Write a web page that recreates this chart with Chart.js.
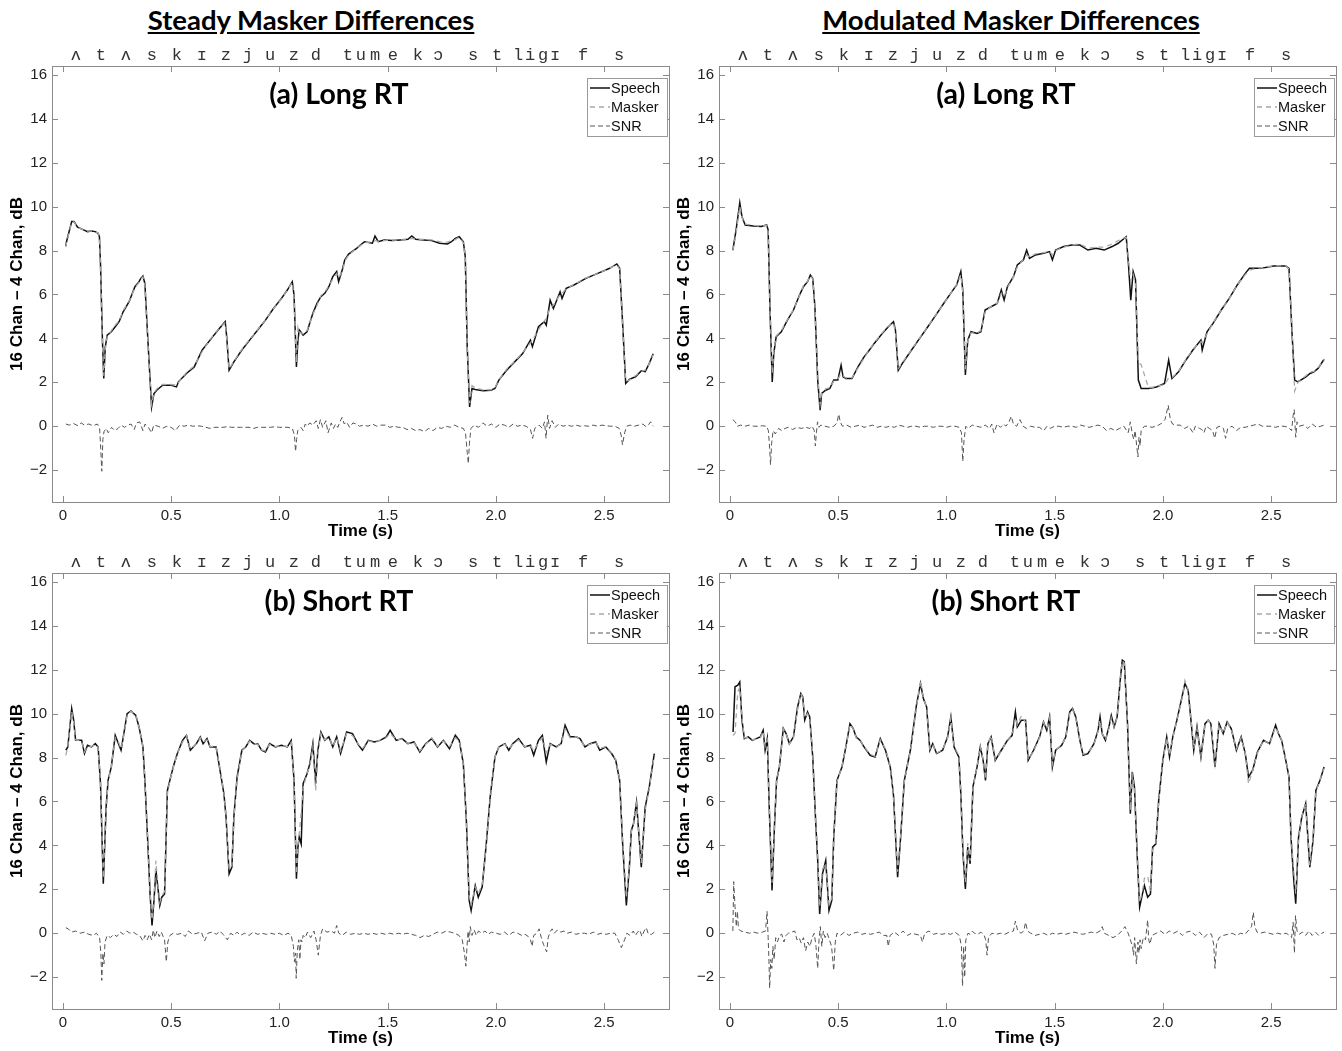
<!DOCTYPE html>
<html>
<head>
<meta charset="utf-8">
<script src="https://cdn.jsdelivr.net/npm/chart.js@4.4.1/dist/chart.umd.min.js"></script>
<style>
  body { margin: 0; background: #fff; width: 1342px; height: 1051px; position: relative; overflow: hidden; }
  .head { position: absolute; top: 3px; font: bold 27.5px Lato, sans-serif; text-decoration: underline; color: #000; transform: translateX(-50%); white-space: nowrap; }
  .box { position: absolute; }
</style>
</head>
<body>
<div class="head" style="left:311px">Steady Masker Differences</div>
<div class="head" style="left:1011px">Modulated Masker Differences</div>
<div class="box" style="left:0;top:40px;width:680px;height:500px"><canvas id="steadyLong"></canvas></div>
<div class="box" style="left:667px;top:40px;width:675px;height:500px"><canvas id="modLong"></canvas></div>
<div class="box" style="left:0;top:547px;width:680px;height:500px"><canvas id="steadyShort"></canvas></div>
<div class="box" style="left:667px;top:547px;width:675px;height:500px"><canvas id="modShort"></canvas></div>
<script>
// phoneme labels along the top of each panel (time in s)
var phonemes = ['ʌ','t','ʌ','s','k','ɪ','z','j','u','z','d','t','u','m','e','k','ɔ','s','t','l','i','g','ɪ','f','s'];
var phonemeTimes = [0.06,0.176,0.291,0.411,0.527,0.642,0.753,0.855,0.957,1.067,1.169,1.317,1.377,1.442,1.525,1.64,1.733,1.895,2.006,2.103,2.158,2.218,2.274,2.403,2.569];

var timeTicks = [0, 0.5, 1.0, 1.5, 2.0, 2.5];
var dbTicks = [-2, 0, 2, 4, 6, 8, 10, 12, 14, 16];

// (a) Long RT, steady masker : [time, dB]
var steadyLongSpeech = [[0.014,8.21],[0.017,8.4],[0.041,9.32],[0.052,9.32],[0.068,9.06],[0.096,8.94],[0.114,8.86],[0.132,8.89],[0.15,8.86],[0.163,8.78],
[0.169,8.63],[0.174,7.4],[0.183,3.92],[0.189,2.17],[0.196,3.6],[0.205,4.15],[0.224,4.3],[0.242,4.53],[0.26,4.76],[0.278,5.2],
[0.306,5.67],[0.333,6.35],[0.352,6.58],[0.36,6.73],[0.37,6.84],[0.379,6.5],[0.392,4.07],[0.41,0.88],[0.421,1.49],[0.434,1.64],
[0.461,1.87],[0.498,1.87],[0.525,1.79],[0.534,2.02],[0.571,2.4],[0.607,2.7],[0.644,3.47],[0.68,3.92],[0.717,4.38],[0.75,4.76],
[0.757,4.07],[0.768,2.55],[0.79,2.93],[0.827,3.47],[0.863,3.92],[0.9,4.38],[0.936,4.83],[0.973,5.36],[1.01,5.82],[1.037,6.2],
[1.06,6.58],[1.068,5.97],[1.079,2.7],[1.086,3.92],[1.092,4.38],[1.11,4.15],[1.128,4.3],[1.155,5.14],[1.174,5.59],[1.192,5.9],
[1.21,6.05],[1.229,6.35],[1.247,6.81],[1.265,7.04],[1.274,6.58],[1.293,7.19],[1.302,7.57],[1.32,7.84],[1.357,8.1],[1.393,8.4],
[1.43,8.33],[1.442,8.66],[1.457,8.4],[1.484,8.48],[1.521,8.45],[1.558,8.48],[1.594,8.51],[1.612,8.66],[1.63,8.51],[1.667,8.48],
[1.704,8.45],[1.74,8.33],[1.777,8.3],[1.795,8.4],[1.813,8.55],[1.831,8.63],[1.85,8.4],[1.859,7.72],[1.868,3.62],[1.879,0.88],
[1.89,1.72],[1.905,1.67],[1.941,1.61],[1.978,1.64],[1.996,1.72],[2.014,2.1],[2.05,2.55],[2.087,2.93],[2.124,3.31],[2.16,3.92],
[2.169,3.62],[2.197,4.53],[2.224,4.76],[2.233,4.6],[2.251,5.74],[2.266,5.36],[2.297,6.12],[2.306,5.82],[2.325,6.28],[2.361,6.43],
[2.416,6.73],[2.471,6.96],[2.526,7.19],[2.559,7.39],[2.572,7.19],[2.585,4.83],[2.6,1.95],[2.617,2.13],[2.645,2.25],[2.672,2.52],
[2.69,2.48],[2.709,2.86],[2.727,3.3]];
var steadyLongMasker = [[0.014,8.15],[0.017,8.35],[0.041,9.3],[0.052,9.3],[0.068,9.05],[0.096,8.95],[0.114,8.88],[0.132,8.88],[0.15,8.85],[0.163,8.8],
[0.169,8.6],[0.174,7.3],[0.183,3.8],[0.189,2.3],[0.196,3.5],[0.205,4.1],[0.224,4.35],[0.242,4.6],[0.26,4.8],[0.278,5.25],
[0.306,5.7],[0.333,6.3],[0.352,6.55],[0.36,6.7],[0.37,6.8],[0.379,6.45],[0.392,4.0],[0.41,1.0],[0.421,1.5],[0.434,1.7],
[0.461,1.9],[0.498,1.9],[0.525,1.88],[0.534,1.98],[0.571,2.45],[0.607,2.75],[0.644,3.4],[0.68,3.95],[0.717,4.4],[0.75,4.72],
[0.757,4.0],[0.768,2.6],[0.79,2.95],[0.827,3.5],[0.863,3.95],[0.9,4.4],[0.936,4.85],[0.973,5.35],[1.01,5.8],[1.037,6.2],
[1.06,6.55],[1.068,5.9],[1.079,2.9],[1.086,4.5],[1.092,4.3],[1.11,4.2],[1.128,4.35],[1.155,5.1],[1.174,5.5],[1.192,5.95],
[1.21,6.1],[1.229,6.4],[1.247,6.7],[1.265,6.95],[1.274,6.75],[1.293,7.1],[1.302,7.5],[1.32,7.8],[1.357,8.1],[1.393,8.35],
[1.43,8.4],[1.442,8.45],[1.457,8.42],[1.484,8.45],[1.521,8.47],[1.558,8.48],[1.594,8.5],[1.612,8.55],[1.63,8.52],[1.667,8.5],
[1.704,8.48],[1.74,8.4],[1.777,8.38],[1.795,8.45],[1.813,8.5],[1.831,8.6],[1.85,8.35],[1.859,7.6],[1.868,3.5],[1.879,1.05],
[1.89,1.85],[1.905,1.75],[1.941,1.65],[1.978,1.66],[1.996,1.75],[2.014,2.1],[2.05,2.6],[2.087,2.95],[2.124,3.35],[2.16,3.8],
[2.169,3.9],[2.197,4.4],[2.224,4.8],[2.233,4.9],[2.251,5.4],[2.266,5.5],[2.297,6.0],[2.306,6.05],[2.325,6.25],[2.361,6.45],
[2.416,6.75],[2.471,6.95],[2.526,7.2],[2.559,7.35],[2.572,7.15],[2.585,4.7],[2.6,2.05],[2.617,2.1],[2.645,2.3],[2.672,2.5],
[2.69,2.55],[2.709,2.85],[2.727,3.25]];
var steadyLongSNR = [[0.014,0.1],[0.03,0.05],[0.05,0.12],[0.07,0.02],[0.085,0.15],[0.1,0.05],[0.12,0.1],[0.14,0.02],[0.16,0.1],[0.17,-0.1],
[0.175,-1.0],[0.18,-2.05],[0.185,-0.6],[0.19,-0.25],[0.2,-0.1],[0.21,-0.3],[0.225,-0.05],[0.24,-0.2],[0.255,-0.1],[0.27,0.05],
[0.285,-0.05],[0.3,0.05],[0.315,0.1],[0.33,-0.15],[0.34,0.15],[0.355,0.2],[0.37,-0.2],[0.38,0.1],[0.395,-0.05],[0.41,-0.3],
[0.42,0.05],[0.44,0.0],[0.46,-0.1],[0.48,0.0],[0.5,-0.05],[0.52,-0.2],[0.54,0.05],[0.56,0.0],[0.58,0.05],[0.6,0.0],
[0.62,0.02],[0.64,0.0],[0.66,-0.05],[0.68,-0.1],[0.7,-0.05],[0.72,-0.05],[0.74,-0.05],[0.76,-0.02],[0.78,-0.05],[0.8,-0.05],
[0.82,-0.05],[0.84,-0.05],[0.86,-0.05],[0.88,-0.1],[0.9,-0.05],[0.92,-0.05],[0.94,-0.05],[0.96,-0.05],[0.98,-0.02],[1.0,-0.05],
[1.02,-0.05],[1.04,-0.05],[1.06,-0.1],[1.07,-0.4],[1.075,-1.15],[1.08,-0.6],[1.085,-0.2],[1.1,-0.05],[1.11,-0.2],[1.12,0.1],
[1.13,0.0],[1.14,0.15],[1.155,0.05],[1.17,0.25],[1.18,-0.1],[1.19,0.3],[1.2,-0.05],[1.215,0.25],[1.225,-0.3],[1.24,0.15],
[1.25,-0.1],[1.26,0.1],[1.27,-0.05],[1.28,0.2],[1.29,0.4],[1.3,0.1],[1.31,0.2],[1.325,-0.05],[1.34,0.15],[1.355,0.1],
[1.37,0.0],[1.39,0.05],[1.41,0.0],[1.43,0.1],[1.45,0.0],[1.47,0.05],[1.49,0.05],[1.51,-0.05],[1.53,0.0],[1.55,-0.05],
[1.57,-0.05],[1.59,-0.15],[1.61,-0.1],[1.63,-0.2],[1.65,-0.15],[1.67,-0.25],[1.69,-0.1],[1.71,-0.2],[1.73,-0.05],[1.75,-0.1],
[1.77,0.0],[1.79,-0.05],[1.81,0.05],[1.83,-0.05],[1.85,-0.1],[1.86,-0.3],[1.868,-1.2],[1.873,-1.7],[1.878,-0.8],[1.885,-0.1],
[1.9,0.05],[1.92,-0.05],[1.94,0.15],[1.96,0.0],[1.98,0.1],[2.0,-0.05],[2.02,0.1],[2.04,0.05],[2.06,-0.05],[2.08,0.1],
[2.1,0.0],[2.12,0.05],[2.14,0.0],[2.16,-0.15],[2.17,-0.55],[2.18,-0.1],[2.2,0.05],[2.215,-0.1],[2.225,0.2],[2.232,-0.55],
[2.24,0.5],[2.248,-0.1],[2.26,0.25],[2.275,-0.05],[2.29,0.1],[2.31,0.0],[2.33,0.05],[2.35,0.0],[2.37,0.05],[2.39,0.0],
[2.41,0.02],[2.43,0.0],[2.45,0.05],[2.47,0.0],[2.49,0.05],[2.51,0.02],[2.53,0.0],[2.55,0.0],[2.57,-0.1],[2.58,-0.45],
[2.585,-0.85],[2.595,-0.3],[2.605,0.0],[2.62,0.05],[2.64,0.0],[2.66,0.05],[2.68,0.1],[2.69,0.0],[2.7,0.0],[2.715,0.2],[2.727,0.0]];

// (a) Long RT, modulated masker
var modLongSpeech = [[0.014,8.02],[0.029,8.94],[0.046,10.18],[0.056,9.54],[0.071,9.16],[0.108,9.12],[0.145,9.09],[0.17,9.16],[0.177,8.94],[0.186,5.14],
[0.196,2.02],[0.203,3.31],[0.214,4.07],[0.238,4.3],[0.266,4.83],[0.294,5.29],[0.322,5.97],[0.34,6.35],[0.359,6.58],[0.372,6.88],
[0.383,6.73],[0.393,5.44],[0.406,2.1],[0.417,0.73],[0.424,1.49],[0.443,1.64],[0.462,1.72],[0.48,2.1],[0.499,2.1],[0.514,2.78],
[0.523,2.25],[0.536,2.17],[0.564,2.17],[0.592,2.7],[0.62,3.16],[0.639,3.39],[0.667,3.77],[0.704,4.22],[0.732,4.53],[0.756,4.76],
[0.765,4.38],[0.778,2.55],[0.797,2.86],[0.834,3.39],[0.871,3.92],[0.909,4.45],[0.946,4.98],[0.983,5.52],[1.02,6.05],[1.048,6.43],
[1.067,7.04],[1.076,6.2],[1.088,2.33],[1.099,3.92],[1.114,4.3],[1.142,4.22],[1.16,4.3],[1.179,5.29],[1.207,5.44],[1.235,5.59],
[1.254,6.2],[1.267,5.74],[1.282,6.35],[1.31,6.81],[1.328,7.34],[1.356,7.57],[1.371,8.02],[1.384,7.64],[1.412,7.8],[1.449,7.87],
[1.477,7.95],[1.49,7.57],[1.505,8.02],[1.542,8.18],[1.58,8.25],[1.617,8.25],[1.654,8.02],[1.692,8.1],[1.729,8.02],[1.766,8.18],
[1.794,8.33],[1.831,8.63],[1.841,7.42],[1.852,5.74],[1.863,7.04],[1.874,6.66],[1.887,2.1],[1.9,1.72],[1.934,1.72],[1.971,1.79],
[2.008,1.95],[2.027,3.01],[2.042,2.17],[2.073,2.48],[2.101,2.93],[2.139,3.47],[2.176,3.92],[2.182,3.47],[2.204,4.3],[2.232,4.68],
[2.27,5.29],[2.307,5.82],[2.344,6.43],[2.381,6.96],[2.4,7.19],[2.437,7.19],[2.474,7.23],[2.512,7.29],[2.568,7.29],[2.583,7.19],
[2.596,4.38],[2.609,2.1],[2.624,2.02],[2.661,2.25],[2.68,2.4],[2.698,2.48],[2.717,2.63],[2.745,3.05]];
var modLongMasker = [[0.014,8.0],[0.029,8.8],[0.046,10.0],[0.056,9.5],[0.071,9.2],[0.108,9.15],[0.145,9.1],[0.17,9.15],[0.177,8.9],[0.186,5.3],
[0.196,2.4],[0.203,3.4],[0.214,4.1],[0.238,4.35],[0.266,4.85],[0.294,5.3],[0.322,5.95],[0.34,6.4],[0.359,6.6],[0.372,6.85],
[0.383,6.7],[0.393,5.5],[0.406,2.3],[0.417,1.0],[0.424,1.5],[0.443,1.7],[0.462,1.75],[0.48,2.05],[0.499,2.15],[0.514,2.4],
[0.523,2.3],[0.536,2.2],[0.564,2.2],[0.592,2.65],[0.62,3.1],[0.639,3.4],[0.667,3.8],[0.704,4.25],[0.732,4.55],[0.756,4.7],
[0.765,4.3],[0.778,2.6],[0.797,2.9],[0.834,3.4],[0.871,3.95],[0.909,4.45],[0.946,5.0],[0.983,5.5],[1.02,6.05],[1.048,6.45],
[1.067,6.9],[1.076,6.1],[1.088,2.6],[1.099,3.9],[1.114,4.25],[1.142,4.25],[1.16,4.35],[1.179,5.2],[1.207,5.45],[1.235,5.6],
[1.254,6.05],[1.267,5.9],[1.282,6.3],[1.31,6.8],[1.328,7.25],[1.356,7.6],[1.371,7.8],[1.384,7.7],[1.412,7.85],[1.449,7.9],
[1.477,7.95],[1.49,7.8],[1.505,8.0],[1.542,8.15],[1.58,8.25],[1.617,8.3],[1.654,8.1],[1.692,8.15],[1.729,8.15],[1.766,8.3],
[1.794,8.45],[1.831,8.6],[1.841,7.6],[1.852,6.6],[1.863,6.9],[1.874,6.5],[1.887,2.9],[1.9,2.8],[1.934,1.75],[1.971,1.8],
[2.008,1.9],[2.027,2.2],[2.042,2.2],[2.073,2.5],[2.101,2.95],[2.139,3.5],[2.176,3.85],[2.182,3.8],[2.204,4.2],[2.232,4.7],
[2.27,5.3],[2.307,5.8],[2.344,6.45],[2.381,6.9],[2.4,7.1],[2.437,7.2],[2.474,7.25],[2.512,7.3],[2.568,7.3],[2.583,7.15],
[2.596,4.6],[2.609,1.6],[2.624,2.0],[2.661,2.3],[2.68,2.45],[2.698,2.5],[2.717,2.65],[2.745,3.05]];
var modLongSNR = [[0.014,0.3],[0.025,0.2],[0.035,0.0],[0.05,0.05],[0.07,0.0],[0.09,0.05],[0.11,0.0],[0.13,0.0],[0.15,0.02],[0.17,0.0],
[0.178,-0.2],[0.184,-1.0],[0.188,-1.75],[0.193,-0.8],[0.2,-0.2],[0.21,-0.35],[0.225,-0.1],[0.24,-0.2],[0.255,-0.1],[0.27,-0.05],
[0.29,-0.15],[0.31,-0.05],[0.33,-0.1],[0.35,-0.05],[0.37,-0.1],[0.38,0.0],[0.39,-0.2],[0.395,-0.9],[0.4,-0.3],[0.405,0.2],
[0.412,-0.05],[0.42,0.05],[0.44,0.0],[0.46,-0.05],[0.48,0.0],[0.495,0.15],[0.503,0.55],[0.51,0.2],[0.52,0.0],[0.54,0.05],
[0.56,-0.05],[0.58,0.0],[0.6,0.05],[0.62,-0.05],[0.64,0.0],[0.66,0.05],[0.68,-0.05],[0.7,0.0],[0.72,-0.05],[0.74,0.0],
[0.76,-0.05],[0.78,0.05],[0.8,0.0],[0.82,-0.05],[0.84,0.0],[0.86,0.0],[0.88,-0.05],[0.9,0.0],[0.92,0.0],[0.94,-0.05],
[0.96,0.0],[0.98,0.0],[1.0,-0.05],[1.02,0.0],[1.04,0.0],[1.06,-0.05],[1.07,-0.3],[1.076,-1.6],[1.082,-0.6],[1.09,0.0],
[1.1,-0.1],[1.12,0.05],[1.14,0.0],[1.16,-0.05],[1.18,0.05],[1.2,-0.1],[1.21,0.1],[1.22,-0.3],[1.235,0.1],[1.25,-0.05],
[1.265,0.1],[1.275,0.0],[1.29,0.2],[1.3,0.45],[1.31,0.1],[1.325,0.0],[1.34,0.3],[1.355,0.0],[1.37,-0.1],[1.39,0.0],
[1.41,-0.05],[1.43,-0.05],[1.45,-0.2],[1.465,0.0],[1.48,-0.1],[1.5,0.0],[1.52,0.0],[1.54,-0.05],[1.56,0.0],[1.58,0.0],
[1.6,-0.05],[1.62,0.05],[1.64,0.0],[1.66,-0.05],[1.68,0.0],[1.7,0.05],[1.72,0.0],[1.74,-0.2],[1.76,-0.1],[1.78,-0.2],
[1.8,-0.1],[1.82,0.0],[1.84,-0.3],[1.85,0.2],[1.86,-0.4],[1.866,-0.6],[1.872,-0.2],[1.885,-1.4],[1.89,-0.5],[1.895,-0.9],
[1.9,-0.2],[1.915,0.0],[1.93,0.0],[1.95,-0.05],[1.97,0.0],[1.99,0.1],[2.01,0.3],[2.025,0.95],[2.035,0.3],[2.045,0.1],
[2.06,0.05],[2.08,0.05],[2.1,-0.1],[2.12,0.0],[2.14,-0.3],[2.15,0.0],[2.17,-0.1],[2.18,-0.15],[2.19,-0.3],[2.2,0.0],
[2.215,-0.1],[2.23,-0.2],[2.24,-0.55],[2.25,-0.05],[2.265,0.0],[2.28,-0.1],[2.29,-0.55],[2.3,-0.1],[2.32,0.0],[2.34,-0.2],
[2.36,-0.05],[2.38,-0.05],[2.4,0.0],[2.42,0.05],[2.44,0.1],[2.46,0.0],[2.48,0.0],[2.5,0.0],[2.52,-0.05],[2.54,0.0],
[2.56,0.0],[2.58,-0.05],[2.595,-0.2],[2.602,0.5],[2.607,0.75],[2.614,-0.5],[2.62,0.2],[2.63,0.0],[2.65,0.05],[2.67,-0.1],
[2.69,0.1],[2.71,-0.05],[2.73,0.0],[2.745,0.05]];

// (b) Short RT, steady masker
var steadyShortSpeech = [[0.014,8.33],[0.023,8.48],[0.041,10.23],[0.05,9.7],[0.059,8.78],[0.087,8.78],[0.1,8.18],[0.114,8.56],[0.132,8.48],[0.15,8.63],
[0.163,8.48],[0.174,6.81],[0.187,2.25],[0.2,5.74],[0.209,6.96],[0.224,7.57],[0.242,9.01],[0.257,8.63],[0.269,8.33],[0.278,8.86],
[0.297,10.0],[0.315,10.12],[0.337,9.92],[0.352,9.39],[0.37,8.48],[0.379,6.96],[0.392,4.22],[0.403,1.79],[0.412,0.35],[0.421,1.49],
[0.43,2.86],[0.439,2.1],[0.448,1.26],[0.457,1.64],[0.47,1.79],[0.483,6.5],[0.498,7.11],[0.512,7.64],[0.529,8.18],[0.553,8.78],
[0.571,9.01],[0.589,8.33],[0.617,8.63],[0.635,8.94],[0.648,8.63],[0.666,8.86],[0.68,8.48],[0.708,8.48],[0.726,7.42],[0.744,6.35],
[0.754,5.29],[0.768,2.7],[0.781,3.01],[0.79,5.29],[0.805,7.11],[0.827,8.33],[0.845,8.48],[0.863,8.78],[0.882,8.63],[0.9,8.63],
[0.918,8.33],[0.936,8.25],[0.955,8.63],[0.982,8.48],[1.01,8.56],[1.037,8.48],[1.055,8.78],[1.068,6.96],[1.079,2.48],[1.086,3.92],
[1.092,4.38],[1.101,4.07],[1.11,6.81],[1.128,7.26],[1.141,7.72],[1.155,8.63],[1.168,6.81],[1.178,8.33],[1.192,9.16],[1.21,8.78],
[1.229,8.94],[1.247,8.48],[1.265,8.94],[1.283,8.18],[1.311,9.16],[1.338,9.09],[1.366,8.56],[1.384,8.33],[1.411,8.78],[1.439,8.71],
[1.466,8.78],[1.494,8.94],[1.512,9.24],[1.54,8.78],[1.567,8.86],[1.594,8.63],[1.622,8.71],[1.649,8.25],[1.676,8.63],[1.704,8.86],
[1.731,8.48],[1.758,8.78],[1.786,8.4],[1.813,9.01],[1.831,8.78],[1.85,7.72],[1.864,5.14],[1.877,1.49],[1.886,1.03],[1.905,2.17],
[1.919,1.64],[1.937,2.1],[1.956,4.07],[1.974,6.2],[1.996,8.02],[2.014,8.48],[2.042,8.63],[2.06,8.33],[2.078,8.63],[2.105,8.86],
[2.133,8.48],[2.16,8.56],[2.175,8.1],[2.197,8.78],[2.215,9.01],[2.233,7.8],[2.251,8.63],[2.279,8.48],[2.302,8.63],[2.32,9.47],
[2.343,8.94],[2.37,8.94],[2.389,8.86],[2.412,8.48],[2.435,8.63],[2.462,8.71],[2.48,8.33],[2.508,8.48],[2.535,8.18],[2.554,7.87],
[2.572,6.96],[2.585,4.22],[2.603,1.26],[2.617,3.01],[2.626,4.68],[2.636,4.98],[2.65,5.97],[2.672,3.01],[2.69,5.74],[2.709,6.66],
[2.732,8.18]];
var steadyShortMasker = [[0.014,8.1],[0.023,8.5],[0.041,10.1],[0.05,9.6],[0.059,8.8],[0.087,8.75],[0.1,8.25],[0.114,8.5],[0.132,8.5],[0.15,8.6],
[0.163,8.45],[0.174,6.9],[0.187,2.5],[0.2,5.6],[0.209,6.9],[0.224,7.6],[0.242,8.9],[0.257,8.7],[0.269,8.4],[0.278,8.8],
[0.297,9.95],[0.315,10.1],[0.337,9.95],[0.352,9.4],[0.37,8.5],[0.379,7.0],[0.392,4.3],[0.403,1.9],[0.412,0.6],[0.421,1.6],
[0.43,3.3],[0.439,2.2],[0.448,1.4],[0.457,1.7],[0.47,1.9],[0.483,6.4],[0.498,7.1],[0.512,7.6],[0.529,8.2],[0.553,8.7],
[0.571,9.0],[0.589,8.4],[0.617,8.6],[0.635,8.9],[0.648,8.7],[0.666,8.8],[0.68,8.5],[0.708,8.5],[0.726,7.5],[0.744,6.4],
[0.754,5.3],[0.768,2.9],[0.781,3.1],[0.79,5.2],[0.805,7.0],[0.827,8.3],[0.845,8.5],[0.863,8.75],[0.882,8.65],[0.9,8.6],
[0.918,8.35],[0.936,8.3],[0.955,8.6],[0.982,8.5],[1.01,8.55],[1.037,8.5],[1.055,8.7],[1.068,7.0],[1.079,2.7],[1.086,4.0],
[1.092,4.5],[1.101,5.5],[1.11,6.6],[1.128,7.3],[1.141,7.6],[1.155,8.5],[1.168,6.5],[1.178,8.2],[1.192,9.1],[1.21,8.8],
[1.229,8.9],[1.247,8.5],[1.265,8.9],[1.283,8.3],[1.311,9.1],[1.338,9.0],[1.366,8.6],[1.384,8.4],[1.411,8.75],[1.439,8.7],
[1.466,8.8],[1.494,8.9],[1.512,9.1],[1.54,8.8],[1.567,8.85],[1.594,8.65],[1.622,8.7],[1.649,8.3],[1.676,8.6],[1.704,8.9],
[1.731,8.5],[1.758,8.75],[1.786,8.5],[1.813,8.9],[1.831,8.75],[1.85,7.7],[1.864,5.2],[1.877,1.7],[1.886,1.3],[1.905,2.1],
[1.919,1.8],[1.937,2.2],[1.956,4.0],[1.974,6.1],[1.996,8.0],[2.014,8.5],[2.042,8.6],[2.06,8.4],[2.078,8.6],[2.105,8.8],
[2.133,8.5],[2.16,8.55],[2.175,8.3],[2.197,8.7],[2.215,8.9],[2.233,8.2],[2.251,8.6],[2.279,8.5],[2.302,8.6],[2.32,9.3],
[2.343,8.9],[2.37,8.95],[2.389,8.85],[2.412,8.5],[2.435,8.6],[2.462,8.7],[2.48,8.4],[2.508,8.5],[2.535,8.2],[2.554,7.9],
[2.572,7.0],[2.585,4.4],[2.603,1.6],[2.617,3.1],[2.626,4.6],[2.636,5.0],[2.65,5.9],[2.672,3.2],[2.69,5.6],[2.709,6.6],
[2.732,8.1]];
var steadyShortSNR = [[0.014,0.25],[0.025,0.2],[0.04,0.05],[0.06,0.1],[0.08,0.0],[0.1,0.05],[0.12,-0.05],[0.14,-0.1],[0.155,0.0],[0.17,-0.2],
[0.176,-1.0],[0.18,-2.15],[0.185,-0.9],[0.19,-1.4],[0.195,-0.4],[0.205,-0.1],[0.22,-0.2],[0.235,-0.05],[0.25,-0.15],[0.265,0.05],
[0.28,-0.05],[0.295,0.1],[0.31,0.0],[0.325,0.05],[0.34,-0.05],[0.355,-0.1],[0.37,-0.35],[0.38,-0.1],[0.39,-0.3],[0.4,-0.05],
[0.41,-0.3],[0.418,0.15],[0.425,-0.2],[0.435,0.1],[0.445,-0.15],[0.455,0.05],[0.47,-0.3],[0.478,-1.3],[0.485,-0.4],[0.495,-0.1],
[0.51,0.0],[0.53,-0.05],[0.55,0.0],[0.565,-0.15],[0.58,0.1],[0.6,-0.05],[0.62,0.0],[0.64,0.05],[0.655,-0.35],[0.67,0.0],
[0.69,0.05],[0.71,-0.05],[0.725,0.1],[0.74,-0.05],[0.76,-0.3],[0.775,0.0],[0.79,-0.1],[0.805,0.05],[0.82,-0.1],[0.84,0.0],
[0.86,-0.1],[0.88,0.05],[0.9,-0.05],[0.92,0.0],[0.94,-0.05],[0.96,0.0],[0.98,-0.05],[1.0,0.0],[1.02,-0.1],[1.04,0.0],
[1.055,-0.1],[1.065,-0.6],[1.07,-1.3],[1.075,-0.9],[1.078,-2.05],[1.083,-0.8],[1.09,-0.3],[1.095,-1.2],[1.1,-0.3],[1.105,-0.4],
[1.11,-0.1],[1.12,-0.2],[1.13,0.05],[1.145,-0.2],[1.16,0.1],[1.17,-0.3],[1.18,-1.0],[1.19,-0.1],[1.2,0.2],[1.22,0.05],
[1.24,0.1],[1.255,0.0],[1.265,0.35],[1.275,0.0],[1.29,-0.1],[1.31,0.05],[1.33,-0.05],[1.35,0.0],[1.37,-0.05],[1.39,0.0],
[1.41,-0.05],[1.43,0.0],[1.45,-0.05],[1.47,0.0],[1.49,-0.05],[1.51,0.0],[1.53,-0.05],[1.55,0.0],[1.57,-0.05],[1.59,0.0],
[1.61,-0.05],[1.63,-0.1],[1.65,-0.2],[1.67,-0.1],[1.69,-0.15],[1.71,-0.05],[1.73,0.05],[1.75,0.0],[1.77,0.1],[1.79,0.05],
[1.81,0.0],[1.83,-0.1],[1.845,-0.3],[1.855,-0.9],[1.862,-1.5],[1.867,-0.6],[1.872,0.1],[1.877,-0.4],[1.882,0.3],[1.89,-0.1],
[1.9,0.15],[1.91,-0.1],[1.92,0.1],[1.935,0.0],[1.95,0.1],[1.965,-0.05],[1.98,0.05],[2.0,0.0],[2.02,-0.05],[2.04,0.05],
[2.06,-0.1],[2.08,0.05],[2.1,0.0],[2.12,-0.1],[2.135,-0.05],[2.15,-0.15],[2.16,-0.3],[2.168,-0.6],[2.175,-0.1],[2.19,0.0],
[2.2,0.2],[2.21,-0.2],[2.22,-0.5],[2.235,-0.85],[2.242,-0.2],[2.25,0.05],[2.26,0.2],[2.27,0.0],[2.285,0.15],[2.3,0.05],
[2.315,0.1],[2.33,0.0],[2.35,0.05],[2.37,-0.05],[2.39,0.0],[2.41,0.0],[2.43,-0.05],[2.45,0.05],[2.47,-0.05],[2.49,0.0],
[2.51,-0.05],[2.53,0.0],[2.55,0.0],[2.565,-0.3],[2.58,-0.65],[2.595,-0.3],[2.605,0.0],[2.62,-0.1],[2.635,0.1],[2.645,-0.1],
[2.655,0.05],[2.665,0.15],[2.675,-0.15],[2.685,0.1],[2.695,0.25],[2.705,-0.05],[2.72,-0.05],[2.732,0.05]];

// (b) Short RT, modulated masker
var modShortSpeech = [[0.015,9.16],[0.024,11.22],[0.037,11.29],[0.046,11.44],[0.056,9.7],[0.067,8.86],[0.085,8.94],[0.104,8.78],[0.122,8.86],[0.141,8.94],
[0.154,9.24],[0.163,8.33],[0.173,8.86],[0.182,5.74],[0.195,1.95],[0.206,4.83],[0.216,6.96],[0.229,7.57],[0.247,9.32],[0.26,9.09],
[0.275,8.63],[0.294,8.94],[0.313,10.3],[0.328,10.91],[0.337,10.76],[0.346,9.7],[0.359,10.08],[0.369,9.85],[0.383,8.02],[0.397,4.98],
[0.406,3.31],[0.415,0.88],[0.428,2.7],[0.443,3.31],[0.458,1.03],[0.471,1.49],[0.48,4.38],[0.495,6.96],[0.518,7.57],[0.536,8.48],
[0.555,9.54],[0.57,9.32],[0.583,8.94],[0.602,8.78],[0.62,8.48],[0.648,8.1],[0.671,8.02],[0.695,8.86],[0.719,8.33],[0.741,7.57],
[0.756,6.28],[0.775,2.55],[0.788,4.22],[0.806,6.96],[0.834,8.33],[0.862,10.38],[0.881,11.37],[0.894,10.68],[0.909,10.3],[0.924,8.33],
[0.937,8.63],[0.955,8.18],[0.983,8.33],[1.006,8.94],[1.021,9.85],[1.036,8.48],[1.058,8.02],[1.067,6.35],[1.077,3.62],[1.088,2.02],
[1.099,3.92],[1.11,3.16],[1.123,6.66],[1.142,7.57],[1.157,8.48],[1.17,7.87],[1.181,6.96],[1.192,8.63],[1.207,8.94],[1.226,7.87],
[1.254,8.33],[1.282,8.78],[1.304,9.01],[1.319,10.08],[1.328,9.39],[1.347,9.7],[1.366,9.7],[1.378,7.87],[1.403,8.33],[1.431,8.94],
[1.449,9.62],[1.464,9.24],[1.477,9.85],[1.49,7.57],[1.505,8.33],[1.533,8.56],[1.552,8.94],[1.57,10.08],[1.583,10.23],[1.598,9.85],
[1.617,8.78],[1.632,8.1],[1.654,8.18],[1.682,8.63],[1.701,9.24],[1.71,9.85],[1.72,9.09],[1.735,8.78],[1.751,9.39],[1.762,9.92],
[1.775,9.39],[1.789,9.85],[1.804,11.6],[1.813,12.43],[1.822,12.36],[1.837,9.54],[1.85,5.44],[1.859,7.34],[1.869,6.66],[1.882,3.47],
[1.893,1.19],[1.906,1.79],[1.915,2.17],[1.93,1.64],[1.943,1.79],[1.953,3.92],[1.968,4.07],[1.981,6.05],[2.0,7.87],[2.018,8.94],
[2.031,8.02],[2.046,8.94],[2.065,9.7],[2.087,10.68],[2.102,11.37],[2.117,11.06],[2.13,9.7],[2.143,8.33],[2.158,9.39],[2.176,8.02],
[2.195,9.54],[2.21,9.7],[2.222,9.54],[2.241,7.57],[2.26,9.54],[2.279,9.09],[2.297,9.62],[2.316,9.32],[2.34,8.33],[2.362,8.94],
[2.381,8.18],[2.396,7.11],[2.415,7.42],[2.437,8.25],[2.465,8.78],[2.493,8.63],[2.521,9.47],[2.534,9.09],[2.549,8.78],[2.568,7.87],
[2.583,7.11],[2.592,4.38],[2.605,2.4],[2.614,1.34],[2.627,4.38],[2.642,5.29],[2.66,5.9],[2.679,3.01],[2.694,4.22],[2.707,6.5],
[2.726,6.96],[2.745,7.57]];
var modShortMasker = [[0.015,9.0],[0.024,9.1],[0.037,11.0],[0.046,11.2],[0.056,9.8],[0.067,8.9],[0.085,8.9],[0.104,8.8],[0.122,8.85],[0.141,8.9],
[0.154,9.2],[0.163,8.5],[0.173,8.8],[0.182,5.9],[0.195,2.3],[0.206,4.9],[0.216,6.9],[0.229,7.6],[0.247,9.3],[0.26,9.1],
[0.275,8.6],[0.294,8.9],[0.313,10.2],[0.328,10.9],[0.337,10.7],[0.346,9.8],[0.359,10.0],[0.369,9.8],[0.383,8.1],[0.397,5.0],
[0.406,3.5],[0.415,1.2],[0.428,2.9],[0.443,3.2],[0.458,1.3],[0.471,1.6],[0.48,4.3],[0.495,6.9],[0.518,7.6],[0.536,8.5],
[0.555,9.5],[0.57,9.3],[0.583,8.9],[0.602,8.8],[0.62,8.5],[0.648,8.15],[0.671,8.05],[0.695,8.8],[0.719,8.4],[0.741,7.6],
[0.756,6.3],[0.775,2.8],[0.788,4.3],[0.806,6.9],[0.834,8.3],[0.862,10.3],[0.881,11.5],[0.894,10.7],[0.909,10.3],[0.924,8.4],
[0.937,8.6],[0.955,8.2],[0.983,8.35],[1.006,8.9],[1.021,9.8],[1.036,8.5],[1.058,8.1],[1.067,6.4],[1.077,3.7],[1.088,2.3],
[1.099,4.1],[1.11,3.3],[1.123,6.6],[1.142,7.6],[1.157,8.5],[1.17,7.9],[1.181,7.0],[1.192,8.6],[1.207,9.0],[1.226,7.9],
[1.254,8.3],[1.282,8.8],[1.304,9.0],[1.319,9.8],[1.328,9.5],[1.347,9.9],[1.366,9.6],[1.378,7.9],[1.403,8.3],[1.431,8.9],
[1.449,9.6],[1.464,9.3],[1.477,9.8],[1.49,7.7],[1.505,8.3],[1.533,8.6],[1.552,8.9],[1.57,10.0],[1.583,10.2],[1.598,9.8],
[1.617,8.8],[1.632,8.15],[1.654,8.2],[1.682,8.6],[1.701,9.2],[1.71,9.7],[1.72,9.1],[1.735,8.8],[1.751,9.3],[1.762,9.8],
[1.775,9.4],[1.789,9.8],[1.804,11.5],[1.813,12.4],[1.822,12.3],[1.837,9.6],[1.85,5.6],[1.859,7.2],[1.869,6.6],[1.882,3.5],
[1.893,1.4],[1.906,1.9],[1.915,2.5],[1.93,2.6],[1.943,1.9],[1.953,3.8],[1.968,4.1],[1.981,6.0],[2.0,7.8],[2.018,8.9],
[2.031,8.1],[2.046,8.9],[2.065,9.7],[2.087,10.6],[2.102,11.5],[2.117,11.1],[2.13,9.8],[2.143,8.4],[2.158,9.3],[2.176,8.1],
[2.195,9.5],[2.21,9.7],[2.222,9.5],[2.241,7.7],[2.26,9.5],[2.279,9.1],[2.297,9.6],[2.316,9.3],[2.34,8.4],[2.362,8.9],
[2.381,8.2],[2.396,6.8],[2.415,7.4],[2.437,8.2],[2.465,8.8],[2.493,8.6],[2.521,9.4],[2.534,9.1],[2.549,8.8],[2.568,7.9],
[2.583,7.1],[2.592,4.5],[2.605,2.8],[2.614,1.8],[2.627,4.3],[2.642,5.3],[2.66,5.9],[2.679,3.1],[2.694,4.3],[2.707,6.4],
[2.726,7.0],[2.745,7.5]];
var modShortSNR = [[0.014,0.1],[0.018,2.35],[0.024,1.2],[0.03,0.3],[0.035,1.0],[0.04,0.2],[0.05,0.1],[0.07,0.05],[0.09,0.0],[0.11,0.05],
[0.13,0.0],[0.15,0.05],[0.165,0.1],[0.172,1.0],[0.177,-0.2],[0.18,-1.0],[0.184,-2.5],[0.189,-1.2],[0.194,-1.6],[0.199,-0.6],
[0.205,-1.2],[0.212,-0.2],[0.22,-0.4],[0.23,-0.1],[0.24,-0.05],[0.25,-0.4],[0.26,-0.1],[0.27,0.0],[0.285,0.05],[0.3,0.1],
[0.31,-0.3],[0.32,-0.2],[0.33,-0.45],[0.34,-0.2],[0.35,-0.8],[0.36,-0.4],[0.37,-0.6],[0.38,-0.2],[0.39,0.0],[0.398,-0.6],
[0.406,-1.6],[0.412,-0.3],[0.418,0.3],[0.425,-0.6],[0.432,0.1],[0.44,-0.2],[0.45,0.0],[0.46,-0.3],[0.47,-0.6],[0.48,-1.7],
[0.487,-0.4],[0.495,0.0],[0.51,-0.1],[0.53,0.05],[0.55,-0.1],[0.57,0.0],[0.59,0.05],[0.61,-0.05],[0.63,0.0],[0.65,-0.05],
[0.67,0.0],[0.69,0.05],[0.71,-0.1],[0.725,-0.1],[0.732,-0.6],[0.74,-0.1],[0.76,0.05],[0.78,-0.1],[0.8,0.1],[0.82,-0.1],
[0.84,0.0],[0.86,-0.05],[0.88,-0.1],[0.89,-0.4],[0.9,0.0],[0.92,0.1],[0.94,-0.05],[0.96,0.0],[0.98,-0.05],[1.0,0.0],
[1.02,-0.05],[1.04,0.05],[1.06,-0.1],[1.07,-0.6],[1.075,-2.4],[1.08,-0.6],[1.085,-2.0],[1.09,-0.3],[1.1,0.0],[1.11,-0.05],
[1.12,0.1],[1.13,0.0],[1.145,-0.05],[1.16,0.05],[1.175,-0.1],[1.182,-0.3],[1.188,-1.0],[1.195,-0.2],[1.21,0.0],[1.23,-0.05],
[1.25,0.0],[1.27,-0.05],[1.29,0.05],[1.31,0.1],[1.319,0.55],[1.33,0.1],[1.345,0.0],[1.358,0.1],[1.366,0.5],[1.375,0.1],
[1.39,0.0],[1.41,-0.1],[1.43,-0.05],[1.45,0.0],[1.47,-0.1],[1.49,0.0],[1.51,-0.05],[1.53,0.0],[1.55,-0.05],[1.57,0.0],
[1.59,0.05],[1.61,0.0],[1.63,-0.05],[1.65,0.0],[1.67,0.05],[1.69,0.0],[1.71,0.1],[1.72,0.3],[1.73,0.0],[1.75,-0.1],
[1.77,-0.2],[1.79,-0.1],[1.81,0.1],[1.825,0.3],[1.84,0.0],[1.85,-0.3],[1.86,-0.6],[1.865,-1.0],[1.87,-0.2],[1.878,-1.4],
[1.885,-0.4],[1.89,-0.9],[1.895,-0.3],[1.9,-0.7],[1.91,-0.2],[1.92,-0.3],[1.93,0.6],[1.935,-0.3],[1.94,-0.5],[1.95,-0.1],
[1.97,0.0],[1.99,0.1],[2.01,-0.05],[2.03,0.1],[2.05,0.0],[2.07,0.1],[2.09,-0.1],[2.11,0.05],[2.13,0.1],[2.15,-0.1],
[2.17,0.05],[2.19,-0.2],[2.21,0.0],[2.225,-0.05],[2.235,-0.5],[2.241,-1.6],[2.248,-0.5],[2.26,-0.2],[2.28,-0.1],[2.3,-0.05],
[2.32,0.0],[2.34,-0.1],[2.36,0.0],[2.38,-0.05],[2.41,0.3],[2.418,0.95],[2.425,0.3],[2.435,0.05],[2.45,0.0],[2.47,0.05],
[2.49,0.0],[2.51,-0.05],[2.53,0.0],[2.55,-0.05],[2.57,0.0],[2.585,-0.1],[2.595,-0.2],[2.602,0.5],[2.608,-0.9],[2.613,0.8],
[2.62,0.1],[2.63,-0.05],[2.645,0.05],[2.66,-0.1],[2.675,0.1],[2.69,-0.1],[2.705,0.05],[2.72,-0.1],[2.735,0.0],[2.745,0.05]];

function toXY(pairs) {
  return pairs.map(function(p) { return {x: p[0], y: p[1]}; });
}

var sans = '"Liberation Sans", Arial, sans-serif';

// box, inward ticks, phonemes, panel title and legend (MATLAB look)
var frame = {
  id: 'frame',
  afterDraw: function(chart, args, opts) {
    var ctx = chart.ctx, a = chart.chartArea, x = chart.scales.x, y = chart.scales.y;
    ctx.save();
    ctx.strokeStyle = '#8a8a8a';
    ctx.lineWidth = 1;
    ctx.strokeRect(Math.round(a.left) + 0.5, Math.round(a.top) + 0.5, Math.round(a.right - a.left), Math.round(a.bottom - a.top));
    ctx.beginPath();
    timeTicks.forEach(function(t) {
      var px = Math.round(x.getPixelForValue(t)) + 0.5;
      ctx.moveTo(px, a.bottom); ctx.lineTo(px, a.bottom - 6);
      ctx.moveTo(px, a.top); ctx.lineTo(px, a.top + 6);
    });
    dbTicks.forEach(function(v) {
      var py = Math.round(y.getPixelForValue(v)) + 0.5;
      ctx.moveTo(a.left, py); ctx.lineTo(a.left + 6, py);
      ctx.moveTo(a.right, py); ctx.lineTo(a.right - 6, py);
    });
    ctx.stroke();

    // phonemes
    ctx.fillStyle = '#333';
    ctx.font = '17px "Liberation Mono", "DejaVu Sans Mono", monospace';
    ctx.textAlign = 'center';
    ctx.textBaseline = 'middle';
    phonemes.forEach(function(p, i) {
      ctx.fillText(p, x.getPixelForValue(phonemeTimes[i]), a.top - 11);
    });

    // panel title
    ctx.fillStyle = '#000';
    ctx.font = 'bold 28.5px Lato, sans-serif';
    ctx.fillText(opts.title, a.left + 287, a.top + 29);

    // legend
    var bx = a.right - 82, by = a.top + 12, bw = 80, bh = 58;
    ctx.fillStyle = '#fff';
    ctx.fillRect(bx, by, bw, bh);
    ctx.strokeStyle = '#9a9a9a';
    ctx.strokeRect(bx + 0.5, by + 0.5, bw, bh);
    ctx.font = '14.5px ' + sans;
    ctx.textAlign = 'left';
    chart.data.datasets.forEach(function(ds, i) {
      var ly = by + 10 + i * 19;
      ctx.strokeStyle = ds.borderColor;
      ctx.lineWidth = ds.borderWidth;
      ctx.setLineDash(ds.borderDash || []);
      ctx.beginPath();
      ctx.moveTo(bx + 3, ly); ctx.lineTo(bx + 23, ly);
      ctx.stroke();
      ctx.setLineDash([]);
      ctx.fillStyle = '#111';
      ctx.fillText(ds.label, bx + 24, ly + 1);
    });
    ctx.restore();
  }
};

function drawPanel(id, speech, masker, snr, title, rightPad) {
  new Chart(document.getElementById(id), {
    type: 'line',
    data: {
      datasets: [
        { label: 'Speech', data: toXY(speech), borderColor: '#111', borderWidth: 1.5, order: 2 },
        { label: 'Masker', data: toXY(masker), borderColor: '#a8a8a8', borderWidth: 1.3, borderDash: [5, 4], order: 1 },
        { label: 'SNR', data: toXY(snr), borderColor: '#555', borderWidth: 1, borderDash: [5, 3], order: 0 }
      ]
    },
    options: {
      responsive: true,
      maintainAspectRatio: false,
      animation: false,
      layout: { padding: { top: 26, right: rightPad, left: 0, bottom: 0 } },
      elements: { point: { radius: 0 }, line: { tension: 0 } },
      plugins: { legend: { display: false }, tooltip: { enabled: false }, frame: { title: title } },
      scales: {
        x: {
          type: 'linear', min: -0.05, max: 2.8,
          grid: { display: false, drawTicks: false },
          border: { display: false },
          ticks: {
            stepSize: 0.5, includeBounds: false, autoSkip: false, maxRotation: 0, padding: 5,
            color: '#222', font: { family: sans, size: 15 },
            callback: function(v) { return v === 0 ? '0' : v.toFixed(1); }
          },
          title: { display: true, text: 'Time (s)', color: '#000', font: { family: sans, size: 17, weight: 'bold', lineHeight: 1.0 }, padding: { top: 0, bottom: 0 } },
          afterFit: function(s) { s.height = 38; }
        },
        y: {
          min: -3.45, max: 16.4,
          grid: { display: false, drawTicks: false },
          border: { display: false },
          ticks: {
            stepSize: 2, includeBounds: false, padding: 5,
            color: '#222', font: { family: sans, size: 15 },
            callback: function(v) { return v < 0 ? '\u2212' + Math.abs(v) : String(v); }
          },
          title: { display: true, text: '16 Chan \u2013 4 Chan, dB', color: '#000', font: { family: sans, size: 17, weight: 'bold' }, padding: { top: 7, bottom: 0 } },
          afterFit: function(s) { s.width = 52; }
        }
      }
    },
    plugins: [frame]
  });
}

drawPanel('steadyLong', steadyLongSpeech, steadyLongMasker, steadyLongSNR, '(a) Long RT', 11);
drawPanel('modLong', modLongSpeech, modLongMasker, modLongSNR, '(a) Long RT', 6);
drawPanel('steadyShort', steadyShortSpeech, steadyShortMasker, steadyShortSNR, '(b) Short RT', 11);
drawPanel('modShort', modShortSpeech, modShortMasker, modShortSNR, '(b) Short RT', 6);
</script>
</body>
</html>
